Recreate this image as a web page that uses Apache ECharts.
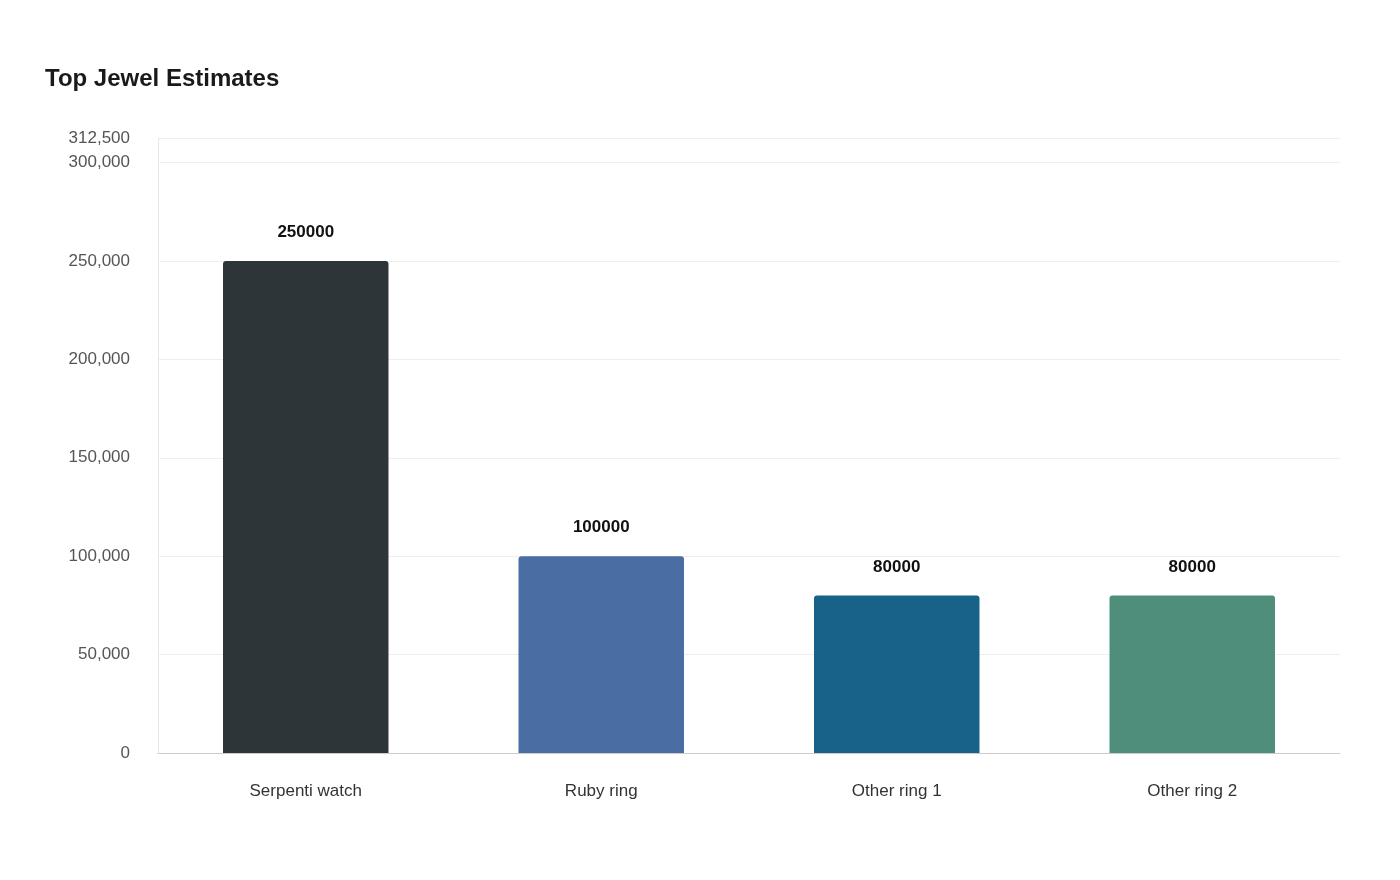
<!DOCTYPE html>
<html>
<head>
<meta charset="utf-8">
<script src="https://cdn.jsdelivr.net/npm/echarts@6/dist/echarts.min.js"></script>
<style>html,body{margin:0;background:#fff}#main{width:1400px;height:880px}</style>
</head>
<body>
<div id="main"></div>
<script>
var categories = ['Serpenti watch', 'Ruby ring', 'Other ring 1', 'Other ring 2'];
var values = [250000, 100000, 80000, 80000];
var colors = ['#2e3538', '#4a6ea3', '#186289', '#4f8e7b'];

var chart = echarts.init(document.getElementById('main'));
chart.setOption({
  animation: false,
  title: {
    text: 'Top Jewel Estimates',
    left: 40,
    top: 62,
    textStyle: { fontFamily: 'Liberation Sans', fontSize: 24, fontWeight: 'bold', color: '#1a1a1a' }
  },
  grid: { left: 158, right: 60, top: 138, bottom: 127 },
  xAxis: {
    type: 'category',
    data: categories,
    axisTick: { show: false },
    axisLine: { lineStyle: { color: '#cccccc' } },
    axisLabel: { margin: 30, fontFamily: 'Liberation Sans', fontSize: 17, color: '#333' }
  },
  yAxis: {
    type: 'value',
    min: 0,
    max: 312500,
    interval: 50000,
    axisLine: { show: true, lineStyle: { color: '#e6e6e6' } },
    splitLine: { lineStyle: { color: '#eeeeee' } },
    axisLabel: {
      margin: 28, fontFamily: 'Liberation Sans', fontSize: 17, color: '#555',
      showMaxLabel: true,
      formatter: function (v) { return v.toLocaleString('en-US'); }
    }
  },
  series: [{
    type: 'bar',
    barWidth: '56%',
    data: values.map(function (v, i) {
      return { value: v, itemStyle: { color: colors[i], borderRadius: [3, 3, 0, 0] } };
    }),
    label: {
      show: true, position: 'top', distance: 20,
      fontFamily: 'Liberation Sans', fontSize: 17, fontWeight: 'bold', color: '#111'
    }
  }]
});
</script>
</body>
</html>
